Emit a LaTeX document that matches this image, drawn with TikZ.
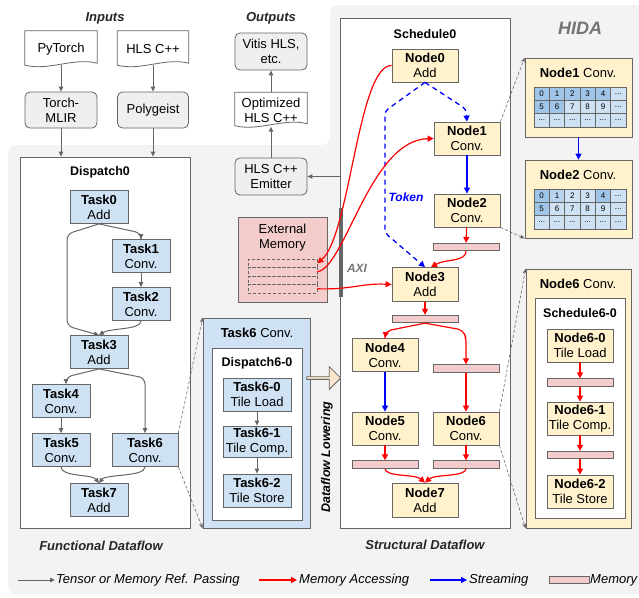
\documentclass[tikz,border=0pt]{standalone}
\usepackage{fontspec}
\setmainfont{Liberation Sans}
\usetikzlibrary{arrows.meta,shapes.arrows,calc}
\definecolor{bggray}{HTML}{F3F3F3}
\definecolor{boxgray}{HTML}{EFEFEF}
\definecolor{bord}{HTML}{666666}
\definecolor{taskblue}{HTML}{CFE2F3}
\definecolor{darkcell}{HTML}{9FC5E8}
\definecolor{midcell}{HTML}{B7D4EE}
\definecolor{nodey}{HTML}{FFF2CC}
\definecolor{mempink}{HTML}{F4CCCC}
\definecolor{peach}{HTML}{FCE5CD}
\definecolor{titlegray}{HTML}{757575}
\definecolor{myred}{HTML}{FF0000}
\definecolor{myblue}{HTML}{0000FF}
\newcommand\gdots{...}
\pgfdeclarelayer{bg}\pgfdeclarelayer{back}\pgfsetlayers{bg,back,main}
\tikzset{
 fnt/.style={font=\fontsize{13}{15}\selectfont},
 taskbox/.style={draw=bord, fill=taskblue, line width=0.8pt, minimum width=58, minimum height=33, inner sep=1pt, align=center, fnt},
 nodebox/.style={draw=bord, fill=nodey, line width=0.8pt, minimum width=66, minimum height=33, inner sep=1pt, align=center, fnt},
 membar/.style={draw=bord, fill=mempink, line width=0.8pt, minimum width=66, minimum height=7.5, inner sep=0pt},
 container/.style={draw=bord, line width=0.8pt, inner sep=0pt},
 roundbox/.style={draw=bord, fill=boxgray, rounded corners=5pt, line width=0.8pt, minimum width=72, minimum height=37, align=center, inner sep=1pt, fnt},
 docnode/.style={minimum width=72, minimum height=36, align=center, inner sep=1pt, fnt},
 docsty/.style={draw=bord, fill=white, line width=0.8pt},
 garrow/.style={draw=bord, line width=1pt, -{Triangle[length=5pt,width=4.5pt]}},
 rarrow/.style={draw=myred, line width=1.2pt, -{Triangle[length=6pt,width=6pt]}},
 barrow/.style={draw=myblue, line width=1.2pt, -{Triangle[length=6pt,width=6pt]}},
 bdash/.style={draw=myblue, line width=1.3pt, dash pattern=on 5pt off 4pt, -{Triangle[length=6pt,width=6pt]}},
 zoomline/.style={draw=bord, line width=0.6pt, dash pattern=on 3pt off 2pt, -{Stealth[length=5pt,width=4pt]}},
 titletxt/.style={font=\fontsize{12.5}{14}\selectfont\bfseries},
 sectxt/.style={font=\fontsize{13}{15}\selectfont\bfseries\itshape, text=black!85},
 legtxt/.style={font=\fontsize{13}{15}\selectfont\itshape, inner sep=0pt, anchor=west},
 cell/.style={draw=bord, line width=0.5pt, minimum width=15.33, minimum height=13.33, inner sep=0pt, font=\fontsize{8}{8}\selectfont},
}
\newcommand\docpath[1]{\begin{pgfonlayer}{back}\draw[docsty] (#1.north west) -- (#1.north east) -- ([yshift=4pt]#1.south east) .. controls ([xshift=-24pt,yshift=10pt]#1.south east) and ([xshift=24pt,yshift=-4pt]#1.south west) .. ([yshift=2pt]#1.south west) -- cycle;\end{pgfonlayer}}
\begin{document}
\begin{tikzpicture}[x=1pt,y=-1pt]
\useasboundingbox (0,0) rectangle (639,597);
\begin{pgfonlayer}{bg}
\fill[white] (0,0) rectangle (639,597);
\fill[bggray, rounded corners=8pt] (330,5) -- (660,5) -- (660,594) -- (8,594) -- (8,145) -- (330,145) -- cycle;
\end{pgfonlayer}

% ---------- Inputs / Outputs ----------
\node[sectxt] (inputs) at (105,18) {Inputs};
\node[docnode] (pytorch) at (61,49) {PyTorch};
\docpath{pytorch}
\node[docnode, minimum width=71] (hlsin) at (153,49) {HLS C++};
\docpath{hlsin}
\node[roundbox, minimum height=36] (torchmlir) at (61,110) {Torch-\\MLIR};
\node[roundbox, minimum height=36, minimum width=71] (polygeist) at (153,110) {Polygeist};
\draw[garrow] ([yshift=2pt]pytorch.south) -- (torchmlir.north);
\draw[garrow] ([yshift=2pt]hlsin.south) -- (polygeist.north);

\node[sectxt] (outputs) at (271,18) {Outputs};
\node[roundbox] (vitis) at (271,51.5) {Vitis HLS,\\etc.};
\node[docnode, minimum height=35] (opt) at (271,110) {Optimized\\HLS C++};
\docpath{opt}
\node[roundbox] (emitter) at (271,176.5) {HLS C++\\Emitter};
\draw[garrow] (emitter.north) -- ([yshift=1pt]opt.south);
\draw[garrow] (opt.north) -- (vitis.south);

% ---------- Functional dataflow ----------
\node[container, fill=white, minimum width=170, minimum height=371] (dispatch0) at (105,342.5) {};
\node[titletxt] (d0title) at (100,172) {Dispatch0};
\draw[garrow] (torchmlir.south) -- (torchmlir.south |- dispatch0.north);
\draw[garrow] (polygeist.south) -- (polygeist.south |- dispatch0.north);

\node[taskbox] (task0) at (99,207) {\textbf{Task0}\\Add};
\node[taskbox] (task1) at (141,256) {\textbf{Task1}\\Conv.};
\node[taskbox] (task2) at (141,304) {\textbf{Task2}\\Conv.};
\node[taskbox] (task3) at (99,352) {\textbf{Task3}\\Add};
\node[taskbox] (task4) at (61,401) {\textbf{Task4}\\Conv.};
\node[taskbox] (task5) at (61,450) {\textbf{Task5}\\Conv.};
\node[taskbox, minimum width=66] (task6) at (145,450) {\textbf{Task6}\\Conv.};
\node[taskbox] (task7) at (99,500) {\textbf{Task7}\\Add};

\draw[garrow, rounded corners=6pt] (task0.south) -- (67,234) -- (67,326) -- (task3.north);
\draw[garrow, rounded corners=6pt] (task0.south) -- (141,233) -- (task1.north);
\draw[garrow] (task1) -- (task2);
\draw[garrow] (task2.south) .. controls (141,330) and (110,328) .. (task3.north);
\draw[garrow, rounded corners=6pt] (task3.south) -- (66,377) -- ([xshift=5pt]task4.north);
\draw[garrow, rounded corners=6pt] (task3.south) -- (145,378) -- (task6.north);
\draw[garrow] (task4) -- (task5);
\draw[garrow] (task5.south) .. controls (61,477) and (92,474) .. (task7.north);
\draw[garrow] (task6.south) .. controls (145,477) and (106,474) .. (task7.north);
\node[sectxt] (fdlabel) at (101,546) {Functional Dataflow};

% Task6 zoom panel
\node[container, fill=taskblue, minimum width=107, minimum height=210] (t6panel) at (256.5,423) {};
\node[fnt] (t6title) at (257,333) {\textbf{Task6} Conv.};
\node[container, fill=white, minimum width=90, minimum height=172] (t6inner) at (257,434) {};
\node[titletxt] (d60title) at (257,363) {Dispatch6-0};
\node[taskbox, minimum width=68] (t60) at (257,394.5) {\textbf{Task6-0}\\Tile Load};
\node[taskbox, minimum width=68, minimum height=31] (t61) at (257,441.5) {\textbf{Task6-1}\\Tile Comp.};
\node[taskbox, minimum width=68] (t62) at (257,490.5) {\textbf{Task6-2}\\Tile Store};
\draw[garrow] (t60) -- (t61);
\draw[garrow] (t61) -- (t62);
\draw[zoomline] (task6.north east) -- (t6panel.north west);
\draw[zoomline] (task6.south east) -- (t6panel.south west);

% lowering arrow
\node[single arrow, draw=bord, fill=peach, line width=0.8pt, minimum height=34, minimum width=23, single arrow head extend=3pt, inner sep=0pt] (lower) at (323,378) {};
\node[rotate=90, font=\fontsize{12.5}{14}\selectfont\bfseries\itshape] (dllabel) at (327,457) {Dataflow Lowering};

% ---------- Structural dataflow ----------
\node[container, fill=white, minimum width=170, minimum height=510] (schedule0) at (425,273) {};
\node[titletxt] (s0title) at (425,34) {Schedule0};
\draw[garrow] (schedule0.west |- emitter) -- (emitter.east);

\node[nodebox] (node0) at (425,65.5) {\textbf{Node0}\\Add};
\node[nodebox] (node1) at (467,138.5) {\textbf{Node1}\\Conv.};
\node[nodebox] (node2) at (467,210.5) {\textbf{Node2}\\Conv.};
\node[nodebox, minimum height=34] (node3) at (425,284.5) {\textbf{Node3}\\Add};
\node[nodebox] (node4) at (385,355) {\textbf{Node4}\\Conv.};
\node[nodebox] (node5) at (385,428.5) {\textbf{Node5}\\Conv.};
\node[nodebox] (node6) at (466,428.5) {\textbf{Node6}\\Conv.};
\node[nodebox, minimum height=34] (node7) at (425,500) {\textbf{Node7}\\Add};
\node[membar] (mem2) at (466,247) {};
\node[membar] (mem3) at (425,319) {};
\node[membar] (mem6a) at (466,368.5) {};
\node[membar] (mem5) at (385,464.5) {};
\node[membar] (mem6) at (466,464.5) {};

\coordinate (tkR) at (466,109);
\coordinate (tkL1) at (385,111);
\coordinate (tkL2) at (385,233);
\draw[bdash, rounded corners=4pt] (node0.south) -- (tkR) -- (node1.north);
\draw[bdash, rounded corners=4pt] (node0.south) -- (tkL1) -- (tkL2) -- (node3.north);
\node[font=\fontsize{12}{14}\selectfont\bfseries\itshape, text=myblue] (token) at (406,197) {Token};
\draw[barrow] (node1) -- (node2);
\draw[rarrow] (node2) -- (mem2);
\draw[rarrow] (mem2.south) .. controls (466,262) and (445,259) .. ([xshift=6pt]node3.north);
\draw[rarrow] (node3) -- (mem3);
\draw[rarrow, rounded corners=5pt] (mem3.south) -- (386,331) -- (node4.north);
\draw[rarrow, rounded corners=5pt] (mem3.south) -- (463,330) -- (466,338) -- (mem6a.north);
\draw[barrow] (node4) -- (node5);
\draw[rarrow] (mem6a) -- (node6);
\draw[rarrow] (node5) -- (mem5);
\draw[rarrow] (node6) -- (mem6);
\draw[rarrow] (mem5.south) .. controls (385,477) and (415,474) .. (node7.north);
\draw[rarrow] (mem6.south) .. controls (466,477) and (435,474) .. (node7.north);
\node[sectxt] (sdlabel) at (425,545) {Structural Dataflow};

% External memory + AXI
\node[container, fill=mempink, minimum width=89, minimum height=85] (extmem) at (282.5,259.5) {};
\node[fnt, align=center] (extlabel) at (282.5,238) {External\\Memory};
\foreach \i/\yy in {1/263.25,2/271.75,3/280.25,4/288.75}
  \node[draw=bord, dash pattern=on 3pt off 2pt, line width=0.7pt, minimum width=69, minimum height=8.5, inner sep=0pt] (strip\i) at (282.5,\yy) {};
\node[fill=bord, minimum width=3.5, minimum height=89, inner sep=0pt] (axi) at (341,252.5) {};
\node[font=\fontsize{12}{14}\selectfont\bfseries\itshape, text=titlegray] (axilabel) at (357,268) {AXI};
\draw[rarrow] (node0.west) .. controls (358,65) and (350,236) .. (strip1.east);
\draw[rarrow] (strip2.east) .. controls (345,268) and (370,140) .. (node1.west);
\draw[rarrow] (strip4.east) .. controls (350,290) and (362,283) .. (node3.west);

% ---------- HIDA panels ----------
\node[font=\fontsize{18}{20}\selectfont\bfseries\itshape, text=titlegray] (hida) at (580,28) {HIDA};
\node[container, fill=nodey, minimum width=107, minimum height=79] (hnode1) at (578.5,97.5) {};
\node[fnt] (hn1title) at (578,73) {\textbf{Node1} Conv.};
\foreach \c/\r/\t/\f in {0/0/0/darkcell,1/0/1/darkcell,2/0/2/darkcell,3/0/3/darkcell,4/0/4/darkcell,5/0/\gdots/taskblue,
  0/1/5/darkcell,1/1/6/darkcell,2/1/7/taskblue,3/1/8/taskblue,4/1/9/taskblue,5/1/\gdots/taskblue,
  0/2/\gdots/taskblue,1/2/\gdots/taskblue,2/2/\gdots/taskblue,3/2/\gdots/taskblue,4/2/\gdots/taskblue,5/2/\gdots/taskblue}
  \node[cell, fill=\f] (ga-\c-\r) at ({541.67+15.33*\c},{93.67+13.33*\r}) {\t};
\node[container, fill=nodey, minimum width=107, minimum height=78] (hnode2) at (578.5,199) {};
\node[fnt] (hn2title) at (578,175) {\textbf{Node2} Conv.};
\foreach \c/\r/\t/\f in {0/0/0/darkcell,1/0/1/midcell,2/0/2/taskblue,3/0/3/taskblue,4/0/4/darkcell,5/0/\gdots/taskblue,
  0/1/5/darkcell,1/1/6/taskblue,2/1/7/taskblue,3/1/8/taskblue,4/1/9/taskblue,5/1/\gdots/taskblue,
  0/2/\gdots/taskblue,1/2/\gdots/taskblue,2/2/\gdots/taskblue,3/2/\gdots/taskblue,4/2/\gdots/taskblue,5/2/\gdots/taskblue}
  \node[cell, fill=\f] (gb-\c-\r) at ({541.67+15.33*\c},{195.67+13.33*\r}) {\t};
\draw[barrow] (hnode1.south) -- (hnode2.north);
\draw[zoomline] (node1.north east) -- (hnode1.north west);
\draw[zoomline] (node2.south east) -- (hnode2.south west);

\node[container, fill=nodey, minimum width=105, minimum height=259] (hnode6) at (578.5,398.5) {};
\node[fnt] (hn6title) at (578,284) {\textbf{Node6} Conv.};
\node[container, fill=white, minimum width=90, minimum height=220] (hn6inner) at (580,408) {};
\node[titletxt] (s60title) at (580,313) {Schedule6-0};
\node[nodebox] (n60) at (580,345.5) {\textbf{Node6-0}\\Tile Load};
\node[membar] (m60) at (580,382.5) {};
\node[nodebox] (n61) at (580,418.5) {\textbf{Node6-1}\\Tile Comp.};
\node[membar] (m61) at (580,455) {};
\node[nodebox] (n62) at (580,491.5) {\textbf{Node6-2}\\Tile Store};
\draw[rarrow] (n60) -- (m60);
\draw[rarrow] (m60) -- (n61);
\draw[rarrow] (n61) -- (m61);
\draw[rarrow] (m61) -- (n62);
\draw[zoomline] (node6.north east) -- (hnode6.north west);
\draw[zoomline] (node6.south east) -- (hnode6.south west);

% ---------- Legend ----------
\coordinate (lg1s) at (18,580); \coordinate (lg1e) at (55,580);
\draw[garrow] (lg1s) -- (lg1e);
\node[legtxt] (lg1t) at (56,580) {Tensor or Memory Ref. Passing};
\coordinate (lg2s) at (259,580); \coordinate (lg2e) at (297,580);
\draw[rarrow] (lg2s) -- (lg2e);
\node[legtxt] (lg2t) at (299,580) {Memory Accessing};
\coordinate (lg3s) at (430,580); \coordinate (lg3e) at (467,580);
\draw[barrow] (lg3s) -- (lg3e);
\node[legtxt] (lg3t) at (469,580) {Streaming};
\node[membar, minimum width=40, minimum height=7] (lg4) at (569,580) {};
\node[legtxt] (lg4t) at (590,580) {Memory};
\end{tikzpicture}
\end{document}
